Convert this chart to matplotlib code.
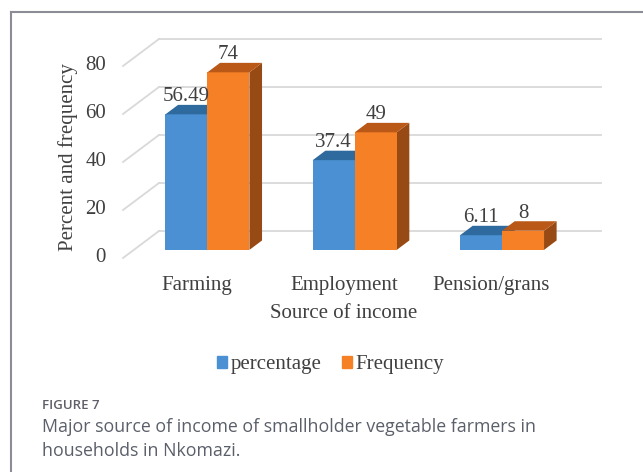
import matplotlib
matplotlib.use("Agg")
import matplotlib.pyplot as plt
from matplotlib.patches import Polygon, Patch
from matplotlib.lines import Line2D

categories = ["Farming", "Employment", "Pension/grans"]
percentage = [56.49, 37.4, 6.11]
frequency = [74, 49, 8]
pct_labels = ["56.49", "37.4", "6.11"]
freq_labels = ["74", "49", "8"]
yticks = [0, 20, 40, 60, 80]

W, H = 643, 472
fig = plt.figure(figsize=(W / 100, H / 100), dpi=100)
ax = fig.add_axes([0, 0, 1, 1])

# pixel mapping: one category = 147.3 px, one value unit = 2.4 px, front floor origin at (123, 258)
cat_px, val_px, x0_px, y0_px = 147.3, 2.4, 123, 258
ax.set_xlim(-x0_px / cat_px - 0.5, (W - x0_px) / cat_px - 0.5)
ax.set_ylim(-(H - y0_px) / val_px, y0_px / val_px)
ax.axis("off")

DX = 36 / cat_px    # depth of the floor in x units
DY = 27 / val_px    # depth of the floor in value units
serif = "Liberation Serif"
tcol = "#404040"
grid = "#d9d9d9"

# back wall gridlines and side diagonals
for v in yticks:
    ax.plot([-0.5 + DX, 2.5 + DX], [v + DY, v + DY], color=grid, lw=1.3, zorder=1)
    ax.plot([-0.5, -0.5 + DX], [v, v + DY], color=grid, lw=1.3, zorder=1)
    ax.text(-0.5 - 17 / cat_px, v, str(v), ha="right", va="center",
            fontsize=15, family=serif, color=tcol)

bw = 0.285
d0, dd = 0.3, 0.35
series = [
    (percentage, pct_labels, "#4a90d2", "#2f6a9e", "#2a5f8f"),
    (frequency, freq_labels, "#f58025", "#b95817", "#984a14"),
]
z = 2
for s, (vals, labs, front, top, side) in enumerate(series):
    xs = [i - bw + s * bw + d0 * DX for i in range(len(categories))]
    yb = d0 * DY
    ax.bar(xs, vals, width=bw, bottom=yb, align="edge", color=front, lw=0, zorder=z + 1)
    for x, v, lab in zip(xs, vals, labs):
        yt = yb + v
        ax.add_patch(Polygon([(x, yt), (x + bw, yt), (x + bw + dd * DX, yt + dd * DY),
                              (x + dd * DX, yt + dd * DY)], color=top, lw=0, zorder=z + 1))
        ax.add_patch(Polygon([(x + bw, yb), (x + bw, yt), (x + bw + dd * DX, yt + dd * DY),
                              (x + bw + dd * DX, yb + dd * DY)], color=side, lw=0, zorder=z))
        ax.annotate(lab, (x + bw / 2, yt + dd * DY), xytext=(0, 2.5), textcoords="offset points",
                    ha="center", va="baseline", fontsize=15, family=serif, color=tcol, zorder=10)
    z += 2

for i, c in enumerate(categories):
    ax.text(i, -32 / val_px, c, ha="center", va="baseline", fontsize=15, family=serif, color=tcol)
ax.text(1, -60 / val_px, "Source of income", ha="center", va="baseline",
        fontsize=15, family=serif, color=tcol)
ax.text((68 - x0_px) / cat_px - 0.5, (y0_px - 157) / val_px, "Percent and frequency",
        rotation=90, ha="center", va="center", fontsize=15, family=serif, color=tcol)

handles = [Patch(color="#4a90d2"), Patch(color="#f58025")]
fig.legend(handles, ["percentage", "Frequency"], loc="center", ncol=2, frameon=False,
           bbox_to_anchor=(330.5 / W, 1 - 365 / H), handlelength=0.5, handleheight=0.55,
           handletextpad=0.15, columnspacing=1.0, prop={"family": serif, "size": 15},
           labelcolor=tcol)

# outer frame
fig.add_artist(Line2D([11 / W, 11 / W], [0, 1 - 12 / H], transform=fig.transFigure,
                      color="#8c8c96", lw=1.5))
fig.add_artist(Line2D([11 / W, 1], [1 - 12 / H, 1 - 12 / H], transform=fig.transFigure,
                      color="#8c8c96", lw=1.5))

# caption
fig.text(42 / W, 1 - 409 / H, "FIGURE 7", family="Open Sans", weight="semibold",
         fontsize=9.5, color="#5f5f69", va="baseline")
fig.text(42 / W, 1 - 432 / H, "Major source of income of smallholder vegetable farmers in",
         family="Open Sans", fontsize=12.8, color="#5a5f69", va="baseline")
fig.text(42 / W, 1 - 456 / H, "households in Nkomazi.",
         family="Open Sans", fontsize=12.8, color="#5a5f69", va="baseline")

fig.savefig("out.png", dpi=100)
